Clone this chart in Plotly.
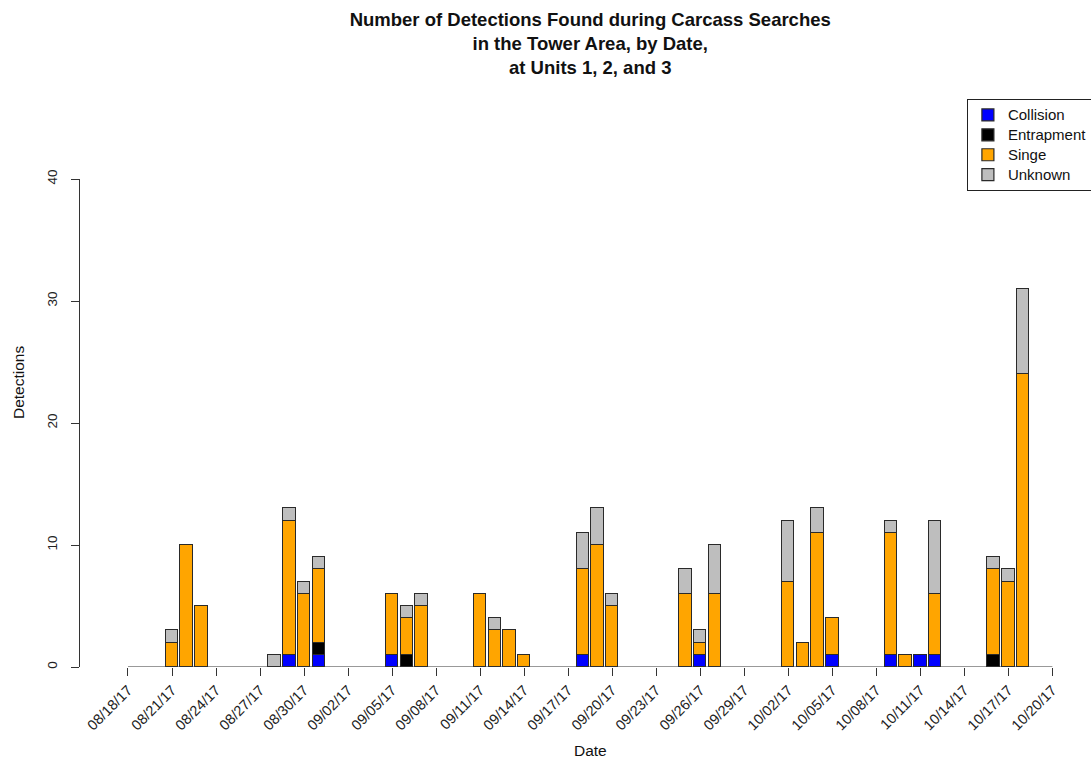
import pandas as pd
import plotly.graph_objects as go

# Search dates and detections by cause
dates = ["2017-08-21", "2017-08-22", "2017-08-23", "2017-08-28", "2017-08-29",
         "2017-08-30", "2017-08-31", "2017-09-05", "2017-09-06", "2017-09-07",
         "2017-09-11", "2017-09-12", "2017-09-13", "2017-09-14", "2017-09-18",
         "2017-09-19", "2017-09-20", "2017-09-25", "2017-09-26", "2017-09-27",
         "2017-10-02", "2017-10-03", "2017-10-04", "2017-10-05", "2017-10-09",
         "2017-10-10", "2017-10-11", "2017-10-12", "2017-10-16", "2017-10-17",
         "2017-10-18"]
collision = [0, 0, 0, 0, 1, 0, 1, 1, 0, 0, 0, 0, 0, 0, 1, 0, 0, 0, 1, 0,
             0, 0, 0, 1, 1, 0, 1, 1, 0, 0, 0]
entrapment = [0, 0, 0, 0, 0, 0, 1, 0, 1, 0, 0, 0, 0, 0, 0, 0, 0, 0, 0, 0,
              0, 0, 0, 0, 0, 0, 0, 0, 1, 0, 0]
singe = [2, 10, 5, 0, 11, 6, 6, 5, 3, 5, 6, 3, 3, 1, 7, 10, 5, 6, 1, 6,
         7, 2, 11, 3, 10, 1, 0, 5, 7, 7, 24]
unknown = [1, 0, 0, 1, 1, 1, 1, 0, 1, 1, 0, 1, 0, 0, 3, 3, 1, 2, 1, 4,
           5, 0, 2, 0, 1, 0, 0, 6, 1, 1, 7]

tick_labels = ["08/18/17", "08/21/17", "08/24/17", "08/27/17", "08/30/17",
               "09/02/17", "09/05/17", "09/08/17", "09/11/17", "09/14/17",
               "09/17/17", "09/20/17", "09/23/17", "09/26/17", "09/29/17",
               "10/02/17", "10/05/17", "10/08/17", "10/11/17", "10/14/17",
               "10/17/17", "10/20/17"]
y_ticks = [0, 10, 20, 30, 40]

series = [
    ("Collision", collision, "#0000FF"),
    ("Entrapment", entrapment, "#000000"),
    ("Singe", singe, "#FFA500"),
    ("Unknown", unknown, "#BEBEBE"),
]

x_dates = pd.to_datetime(dates)
tick_dates = pd.to_datetime(tick_labels, format="%m/%d/%y")
day_ms = 86400000

fig = go.Figure()
for name, vals, color in series:
    fig.add_trace(go.Bar(
        x=x_dates,
        y=[v if v else None for v in vals],
        name='<span style="font-size:15px">' + name + "</span>",
        width=0.85 * day_ms,
        marker=dict(color=color, line=dict(color="#2a2a2a", width=1.2)),
    ))

font_family = "Liberation Sans, Arial, Helvetica, sans-serif"
x_start = tick_dates[0] - pd.Timedelta(hours=78.5)
x_end = tick_dates[-1] + pd.Timedelta(hours=12.5)

fig.update_layout(
    width=1091,
    height=760,
    autosize=False,
    barmode="stack",
    bargap=0,
    plot_bgcolor="white",
    paper_bgcolor="white",
    font=dict(family=font_family, color="#111111"),
    margin=dict(l=80, r=31, t=179, b=93, autoexpand=False),
    title=dict(
        text="<b>Number of Detections Found during Carcass Searches<br>"
             "in the Tower Area, by Date,<br>at Units 1, 2, and 3</b>",
        x=0.541, xref="container", xanchor="center",
        y=1 - 26 / 760, yref="container", yanchor="middle",
        font=dict(size=18.5, color="#111111"),
    ),
    xaxis=dict(
        type="date",
        range=[x_start, x_end],
        tickvals=tick_dates,
        ticktext=tick_labels,
        tickangle=-45,
        ticks="outside",
        ticklen=8,
        tickcolor="#333333",
        tickfont=dict(size=14.5, color="#222222"),
        showline=False,
        showgrid=False,
        zeroline=False,
        fixedrange=True,
    ),
    yaxis=dict(
        range=[0, 40],
        tickvals=y_ticks,
        tickangle=-90,
        ticks="outside",
        ticklen=8,
        tickcolor="#333333",
        tickfont=dict(size=13.5, color="#222222"),
        showline=True,
        linecolor="#333333",
        linewidth=1,
        showgrid=False,
        zeroline=False,
        ticklabelstandoff=9,
    ),
    legend=dict(
        x=0.905, y=(667 - 99) / 488, xanchor="left", yanchor="top",
        traceorder="normal",
        bordercolor="#222222", borderwidth=1,
        bgcolor="white",
        font=dict(size=13, color="#111111"),
    ),
    annotations=[
        dict(text="Date", xref="paper", yref="paper",
             x=(590 - 80) / 980, y=-(750 - 667) / 488,
             xanchor="center", yanchor="middle", showarrow=False,
             font=dict(size=15.5, color="#111111")),
        dict(text="Detections", xref="paper", yref="paper",
             x=-(80 - 18) / 980, y=(667 - 383) / 488, textangle=-90,
             xanchor="center", yanchor="middle", showarrow=False,
             font=dict(size=15.5, color="#111111")),
    ],
)

# x axis line runs from the first to the last labelled date
fig.add_shape(type="line", xref="x", yref="y",
              x0=tick_dates[0], x1=tick_dates[-1], y0=0, y1=0,
              line=dict(color="#333333", width=1))

fig.write_html("out.html")
